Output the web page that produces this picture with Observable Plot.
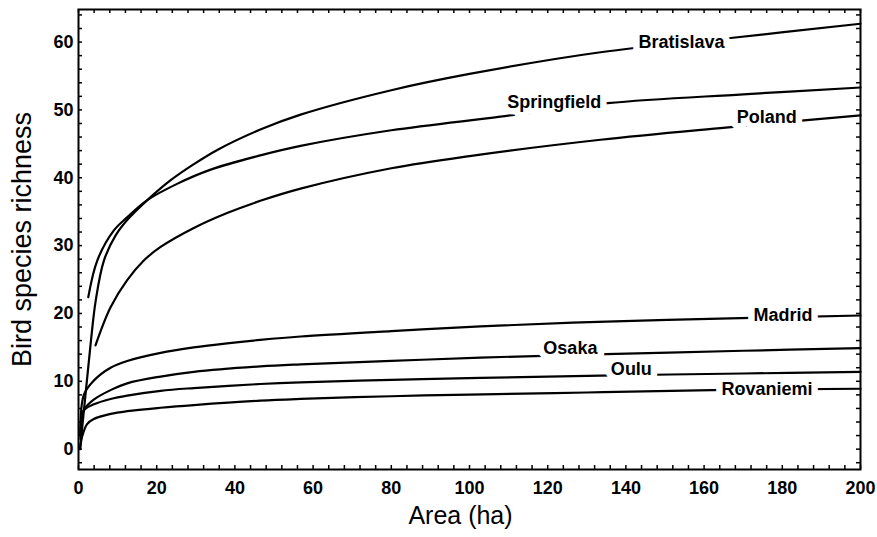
<!DOCTYPE html>
<html>
<head>
<meta charset="utf-8">
<script src="https://cdn.jsdelivr.net/npm/d3@7"></script>
<script src="https://cdn.jsdelivr.net/npm/@observablehq/plot@0.6"></script>
<style>
  html, body { margin: 0; padding: 0; background: #fff; }
  #chart { width: 877px; height: 537px; }
</style>
</head>
<body>
<div id="chart"></div>
<script>
// ---- data ----
const bratislavaArea     = [0.4, 1.8, 3.1, 4.4, 6.5, 9.5, 12.5, 17.6, 23.5, 29.5, 35.5, 46.5, 56.8, 80, 100, 133.5, 166.8, 200];
const bratislavaRichness = [0, 8.1, 15.5, 21.9, 27.8, 31.5, 33.8, 36.7, 39.6, 42.0, 44.1, 47.1, 49.3, 52.9, 55.3, 58.5, 60.6, 62.7];

const springfieldArea     = [2.5, 4.8, 9.0, 12.5, 17.6, 25.2, 33.8, 46.5, 56.8, 80, 107.9, 135.3, 170, 200];
const springfieldRichness = [22.4, 27.8, 32.2, 34.2, 36.7, 39.1, 41.2, 43.3, 44.7, 47.0, 49.0, 51.0, 52.3, 53.3];

const polandArea     = [4.35, 8.2, 12.45, 16.7, 21, 29.5, 38, 46.5, 56.8, 80, 100, 133.5, 165.5, 200];
const polandRichness = [15.3, 20.9, 24.9, 27.8, 29.8, 32.6, 34.8, 36.6, 38.4, 41.4, 43.2, 45.6, 47.4, 49.2];

const madridArea     = [0.5, 1.36, 3.9, 8.2, 12.45, 21, 29.5, 38, 46.5, 56.8, 80, 102.8, 135, 169.3, 200];
const madridRichness = [2.0, 8.0, 10.1, 12.0, 13.0, 14.2, 15.0, 15.6, 16.1, 16.6, 17.4, 18.1, 18.8, 19.3, 19.7];

const osakaArea     = [0.5, 0.95, 1.5, 3.9, 8.2, 12.45, 21, 29.5, 46.5, 56.8, 80, 102.8, 134.8, 170, 200];
const osakaRichness = [1.5, 5.0, 5.9, 7.3, 8.7, 9.7, 10.7, 11.4, 12.2, 12.5, 13.0, 13.5, 14.0, 14.5, 14.9];

const ouluArea     = [0.5, 1.36, 3.9, 8.2, 12.45, 21, 29.5, 46.5, 56.8, 80, 102.8, 133.5, 170, 200];
const ouluRichness = [2.0, 5.7, 6.6, 7.4, 7.9, 8.6, 9.0, 9.6, 9.85, 10.2, 10.5, 10.85, 11.15, 11.4];

const rovaniemiArea     = [0.4, 0.95, 2.2, 3.9, 8.2, 12.45, 21, 29.5, 46.5, 56.8, 80, 100, 130, 162, 200];
const rovaniemiRichness = [0, 1.9, 3.7, 4.45, 5.2, 5.6, 6.1, 6.5, 7.15, 7.4, 7.8, 8.05, 8.35, 8.7, 8.9];

const labelNames    = ["Bratislava", "Springfield", "Poland", "Madrid", "Osaka", "Oulu", "Rovaniemi"];
const labelArea     = [154.2, 121.7, 176.0, 180.2, 125.8, 141.4, 176.1];
const labelRichness = [60.0, 51.2, 48.9, 19.7, 14.8, 11.8, 8.9];

const xTicks = [0, 20, 40, 60, 80, 100, 120, 140, 160, 180, 200];
const yTicks = [0, 10, 20, 30, 40, 50, 60];
const xTitle = "Area (ha)";
const yTitle = "Bird species richness";

// ---- build tables ----
const series = [
  {name: "Bratislava", area: bratislavaArea, richness: bratislavaRichness},
  {name: "Springfield", area: springfieldArea, richness: springfieldRichness},
  {name: "Poland", area: polandArea, richness: polandRichness},
  {name: "Madrid", area: madridArea, richness: madridRichness},
  {name: "Osaka", area: osakaArea, richness: osakaRichness},
  {name: "Oulu", area: ouluArea, richness: ouluRichness},
  {name: "Rovaniemi", area: rovaniemiArea, richness: rovaniemiRichness}
];
const rows = series.flatMap(s => s.area.map((a, i) => ({series: s.name, area: a, richness: s.richness[i]})));
const labels = labelNames.map((n, i) => ({name: n, area: labelArea[i], richness: labelRichness[i]}));
const xMinor = d3.range(0, 201, 4);
const yMinor = d3.range(-2, 65, 2);

const W = 877, H = 537, mL = 78, mR = 17, mT = 9, mB = 68;
const pw = W - mL - mR, ph = H - mT - mB;
const tickLen = 4;

const chart = Plot.plot({
  width: W,
  height: H,
  marginLeft: mL,
  marginRight: mR,
  marginTop: mT,
  marginBottom: mB,
  style: {fontFamily: "'Liberation Sans', Arial, Helvetica, sans-serif", fontSize: "18px", fontWeight: "bold", background: "#fff", color: "#000"},
  x: {domain: [0, 200], ticks: xTicks, tickSize: 0, tickPadding: 12, label: null},
  y: {domain: [-3, 64.8], ticks: yTicks, tickSize: 0, tickPadding: 5, label: null},
  marks: [
    Plot.ruleX(xMinor, {x: d => d, insetTop: ph - tickLen, stroke: "#000", strokeWidth: 1.5}),
    Plot.ruleX(xMinor, {x: d => d, insetBottom: ph - tickLen, stroke: "#000", strokeWidth: 1.5}),
    Plot.ruleY(yMinor, {y: d => d, insetRight: pw - tickLen, stroke: "#000", strokeWidth: 1.5}),
    Plot.ruleY(yMinor, {y: d => d, insetLeft: pw - tickLen, stroke: "#000", strokeWidth: 1.5}),
    Plot.line(rows, {x: "area", y: "richness", z: "series", curve: "catmull-rom", stroke: "#000", strokeWidth: 2.2}),
    Plot.text(labels, {x: "area", y: "richness", text: "name", fontSize: 18, fontWeight: "bold", fill: "#000", stroke: "#fff", strokeWidth: 13, strokeLinejoin: "round", paintOrder: "stroke"}),
    Plot.frame({stroke: "#000", strokeWidth: 2}),
    Plot.text([xTitle], {text: d => d, frameAnchor: "bottom", textAnchor: "middle", dy: 54, dx: -9, fontSize: 25, fontWeight: "normal", fill: "#000"}),
    Plot.text([yTitle], {text: d => d, frameAnchor: "left", textAnchor: "middle", rotate: -90, dx: -56, fontSize: 27, fontWeight: "normal", fill: "#000"})
  ]
});
document.getElementById("chart").appendChild(chart);
</script>
</body>
</html>
